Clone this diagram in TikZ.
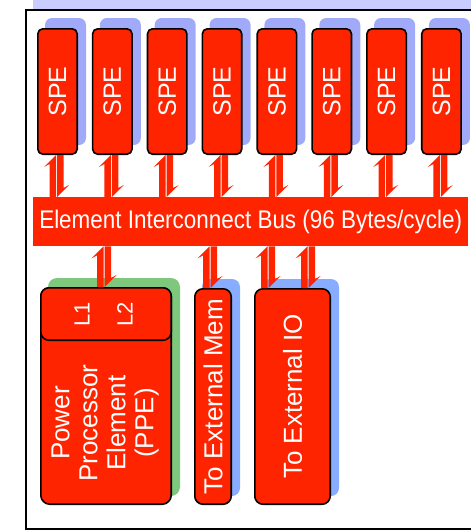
\documentclass[tikz,border=0pt]{standalone}
\usepackage{fontspec}
\setmainfont{Liberation Sans}
\usetikzlibrary{calc}

\definecolor{cellred}{RGB}{255,36,0}
\definecolor{speshadow}{RGB}{160,170,248}
\definecolor{ioshadow}{RGB}{136,172,255}
\definecolor{ppeshadow}{RGB}{125,200,125}
\definecolor{topband}{RGB}{200,204,255}

% a pair of opposed half-arrows between two stacked nodes;
% #1 = x of the gap between the two shafts, #2 = upper node, #3 = lower node
\newcommand\linkpair[3]{%
  \coordinate (gapx) at (#1,0);
  \coordinate (lkT) at (gapx |- #2.south);
  \coordinate (lkB) at (gapx |- #3.north);
  \fill[cellred] ($(lkT)+(-0.5,0)$) -- ++(-12,12) -- ++(5.5,-3)
     -- ($(lkB)+(-7,0)$) -- ($(lkB)+(-0.5,0)$) -- cycle;
  \fill[cellred] ($(lkT)+(0.5,0)$) -- ($(lkT)+(7,0)$)
     -- ($(lkB)+(7,-9)$) -- ++(5.5,-3) -- ($(lkB)+(0.5,0)$) -- cycle;
}

\begin{document}
\begin{tikzpicture}[x=1pt,y=-1pt,
  unit/.style={draw=black, line width=1.6pt, fill=cellred, text=white,
    inner sep=0pt, anchor=north west},
  spebox/.style={unit, rounded corners=5pt, minimum width=39.4pt,
    minimum height=125.4pt, font=\fontsize{25}{28}\selectfont},
  tallbox/.style={unit, rounded corners=8pt, minimum height=215.4pt,
    font=\fontsize{26}{28}\selectfont},
  busbox/.style={fill=cellred, text=white, inner sep=0pt, anchor=north west,
    minimum width=435pt, minimum height=49pt,
    font=\fontsize{25.5}{28}\selectfont},
  whitetext/.style={text=white, inner sep=0pt}]

\useasboundingbox (0,0) rectangle (471,531);

% strip of the block above and the surrounding frame
\fill[topband] (33,-5) rectangle (480,8.5);
\draw[line width=2pt] (480,9.5) -- (25.5,9.5) -- (25.5,528.5) -- (480,528.5);

% shadows
\foreach \i in {1,...,8} {
  \pgfmathsetmacro\sx{37+54.85*(\i-1)}
  \fill[speshadow, rounded corners=7pt] (\sx+8,18) rectangle ++(41,127);
}
\fill[ppeshadow, rounded corners=9pt] (48,278) rectangle ++(132,218);
\fill[ioshadow, rounded corners=8pt] (202,279) rectangle ++(38,217);
\fill[ioshadow, rounded corners=8pt] (262,279) rectangle ++(77,217);

% bus
\node[busbox] (bus) at (33,197)
  {\scalebox{0.88}[1]{Element Interconnect Bus (96 Bytes/cycle)}};

% synergistic processing elements
\foreach \i in {1,...,8} {
  \pgfmathsetmacro\sx{37+54.85*(\i-1)}
  \node[spebox] (spe\i) at (\sx,28) {\rotatebox{90}{SPE}};
  \linkpair{\sx+19.5}{spe\i}{bus}
}

% power processor element with its caches
\node[unit, rounded corners=9pt, minimum width=130.4pt,
  minimum height=216.4pt] (ppe) at (40,287) {};
\node[unit, rounded corners=8pt, minimum width=130.4pt,
  minimum height=52.4pt] (cache) at (40,287) {};
\node[whitetext, rotate=90, font=\fontsize{22}{24}\selectfont] (l1)
  at (82,314) {L1};
\node[whitetext, rotate=90, font=\fontsize{22}{24}\selectfont] (l2)
  at (125,314) {L2};
\node[whitetext, rotate=90, align=center,
  font=\fontsize{26}{28}\selectfont] (ppetext) at (105,423)
  {Power\\Processor\\Element\\(PPE)};

% external interfaces
\node[tallbox, minimum width=36.4pt] (mem) at (194,288)
  {\rotatebox{90}{To External Mem}};
\node[tallbox, minimum width=75.4pt] (io) at (254,288)
  {\rotatebox{90}{To External IO}};

% links below the bus
\linkpair{104}{bus}{cache}
\linkpair{210}{bus}{mem}
\linkpair{268}{bus}{io}
\linkpair{308}{bus}{io}

\end{tikzpicture}
\end{document}
